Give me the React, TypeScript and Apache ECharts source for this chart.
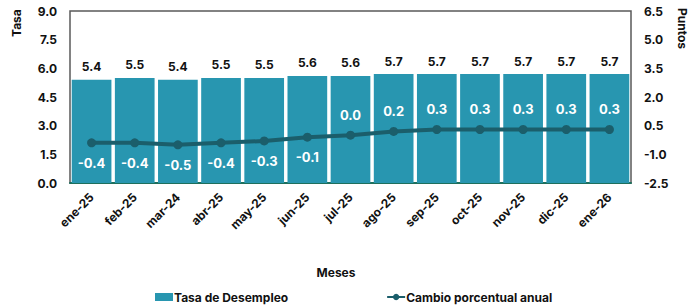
import React, { useEffect, useRef } from "react";
import * as echarts from "echarts";

const categories = ["ene-25", "feb-25", "mar-24", "abr-25", "may-25", "jun-25", "jul-25", "ago-25", "sep-25", "oct-25", "nov-25", "dic-25", "ene-26"];
const tasaDesempleo = [5.4, 5.5, 5.4, 5.5, 5.5, 5.6, 5.6, 5.7, 5.7, 5.7, 5.7, 5.7, 5.7];
const cambioAnual = [-0.4, -0.4, -0.5, -0.4, -0.3, -0.1, 0.0, 0.2, 0.3, 0.3, 0.3, 0.3, 0.3];

const FONT = "Inter, 'Open Sans', sans-serif";
const BAR = "#2896b0";
const LINE = "#1b5e6b";

export default function App() {
  const ref = useRef<HTMLDivElement>(null);
  useEffect(() => {
    if (!ref.current) return;
    const chart = echarts.init(ref.current, null, { renderer: "svg" });
    chart.setOption({
      animation: false,
      textStyle: { fontFamily: FONT },
      grid: { left: 70, right: 65, top: 11, bottom: 125, show: true, borderColor: "#5a5a5a", borderWidth: 1.5, containLabel: false },
      legend: {
        bottom: 5,
        left: 155,
        padding: 0,
        itemGap: 98,
        itemWidth: 18,
        itemHeight: 8,
        textStyle: { fontFamily: FONT, fontWeight: "bold", fontSize: 12, color: "#111", padding: [0, 0, 0, -4] },
        data: [
          { name: "Tasa de Desempleo", icon: "rect" },
          { name: "Cambio porcentual anual" },
        ],
      },
      graphic: [
        { type: "text", x: 10, y: 37, rotation: Math.PI / 2, style: { text: "Tasa", fontFamily: FONT, fontWeight: "bold", fontSize: 12, fill: "#111" } },
        { type: "text", x: 688, y: 8, rotation: -Math.PI / 2, style: { text: "Puntos", fontFamily: FONT, fontWeight: "bold", fontSize: 12, fill: "#111" } },
        { type: "text", x: 336, y: 272, style: { text: "Meses", fontFamily: FONT, fontWeight: "bold", fontSize: 12, fill: "#111", align: "center", verticalAlign: "middle" } },
      ],
      xAxis: {
        type: "category",
        data: categories,
        axisLine: { lineStyle: { color: "#1e6f5c", width: 2 } },
        axisTick: { show: false },
        axisLabel: { rotate: 45, fontFamily: FONT, fontWeight: "bold", fontSize: 12, color: "#111", margin: 12, interval: 0 },
      },
      yAxis: [
        {
          type: "value",
          min: 0,
          max: 9,
          interval: 1.5,
          splitLine: { show: false },
          axisLine: { show: false },
          axisLabel: { formatter: (v: number) => v.toFixed(1), fontFamily: FONT, fontWeight: "bold", fontSize: 12, color: "#111", margin: 13 },
        },
        {
          type: "value",
          min: -2.5,
          max: 6.5,
          interval: 1.5,
          splitLine: { show: false },
          axisLine: { show: false },
          axisLabel: { formatter: (v: number) => v.toFixed(1), fontFamily: FONT, fontWeight: "bold", fontSize: 12, color: "#111", margin: 13 },
        },
      ],
      series: [
        {
          name: "Tasa de Desempleo",
          type: "bar",
          data: tasaDesempleo,
          barCategoryGap: "8%",
          itemStyle: { color: BAR },
          label: { show: true, position: "top", distance: 7, formatter: (p: any) => p.value.toFixed(1), fontFamily: FONT, fontWeight: "bold", fontSize: 12, color: "#111" },
        },
        {
          name: "Cambio porcentual anual",
          type: "line",
          yAxisIndex: 1,
          data: cambioAnual.map((v) => ({
            value: v,
            label: { position: v < 0 ? "bottom" : "top" },
          })),
          symbol: "circle",
          symbolSize: 9,
          lineStyle: { color: LINE, width: 4 },
          itemStyle: { color: LINE },
          label: { show: true, distance: 9, formatter: (p: any) => p.value.toFixed(1), fontFamily: FONT, fontWeight: "bold", fontSize: 13, color: "#fff" },
        },
      ],
    });
    return () => chart.dispose();
  }, []);
  return <div ref={ref} style={{ width: 696, height: 308, position: "absolute", left: 0, top: 0 }} />;
}
